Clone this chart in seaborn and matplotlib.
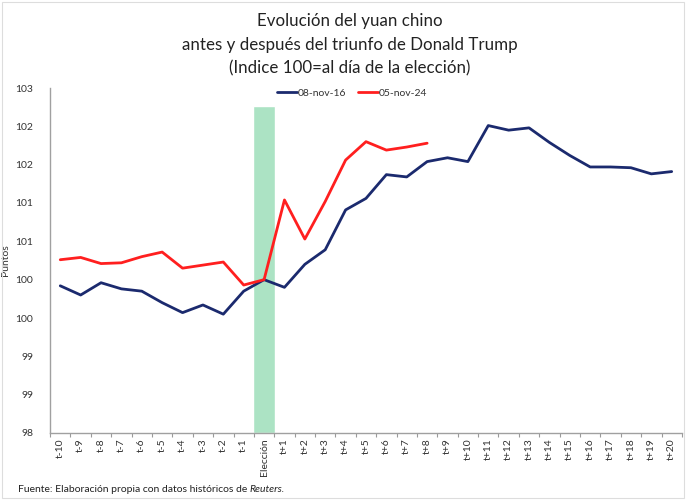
import numpy as np
import pandas as pd
import matplotlib
matplotlib.use("Agg")
import matplotlib.pyplot as plt
import seaborn as sns

categories = [f"t-{i}" for i in range(10, 0, -1)] + ["Elección"] + [f"t+{i}" for i in range(1, 21)]

usd_2016 = [99.92, 99.80, 99.96, 99.88, 99.85, 99.70, 99.57, 99.67, 99.55, 99.85,
            100.00,
            99.90, 100.20, 100.39, 100.91, 101.06, 101.37, 101.34, 101.54, 101.59, 101.54,
            102.01, 101.95, 101.98, 101.79, 101.62, 101.47, 101.47, 101.46, 101.38, 101.41]

usd_2024 = [100.26, 100.29, 100.21, 100.22, 100.30, 100.36, 100.15, 100.19, 100.23, 99.93,
            100.00,
            101.04, 100.53, 101.02, 101.56, 101.80, 101.69, 101.73, 101.78] + [np.nan] * 12

series_names = ["08-nov-16", "05-nov-24"]
election_band = 102.26

y_ticks = [98, 98.5, 99, 99.5, 100, 100.5, 101, 101.5, 102, 102.5]
y_tick_labels = ["98", "99", "99", "100", "100", "101", "101", "102", "102", "103"]

sns.set_theme(style="white")
plt.rcParams["font.family"] = ["Lato", "DejaVu Sans"]

df = pd.DataFrame({
    "cat": categories * 2,
    "val": usd_2016 + usd_2024,
    "serie": [series_names[0]] * len(categories) + [series_names[1]] * len(categories),
})
df["x"] = list(range(len(categories))) * 2

fig = plt.figure(figsize=(6.86, 5.0), dpi=100)
ax = fig.add_axes([0.073, 0.134, 0.921, 0.690])

# election band
ax.bar([categories.index("Elección")], [election_band - 98], bottom=98, width=1.06,
       color="#ACE3C4", zorder=1)

sns.lineplot(data=df, x="x", y="val", hue="serie",
             palette={series_names[0]: "#1B2A6E", series_names[1]: "#FF1F1F"},
             linewidth=2.0, ax=ax, zorder=3, legend=True)

ax.set_xlim(-0.5, len(categories) - 0.5)
ax.set_ylim(98, 102.5)
ax.set_yticks(y_ticks)
ax.set_yticklabels(y_tick_labels, fontsize=7.5, color="#333333")
ax.set_xticks(np.arange(len(categories)))
ax.set_xticklabels(categories, rotation=90, fontsize=7.5, color="#333333")
ax.set_xticks(np.arange(-0.5, len(categories)), minor=True)
ax.tick_params(axis="x", which="major", length=0, pad=4)
ax.tick_params(axis="x", which="minor", length=3, color="#9a9a9a", width=0.8, bottom=True)
ax.tick_params(axis="y", length=0, pad=12)
ax.set_xlabel("")
ax.set_ylabel("Puntos", fontsize=7.5, color="#333333", labelpad=4)

for s in ["top", "right"]:
    ax.spines[s].set_visible(False)
for s in ["left", "bottom"]:
    ax.spines[s].set_color("#a0a0a0")
    ax.spines[s].set_linewidth(1.0)

leg = ax.legend(loc="upper center", bbox_to_anchor=(0.478, 1.025), ncol=2, frameon=False,
                fontsize=7.5, handlelength=1.9, handletextpad=0.1, columnspacing=1.1)
for t in leg.get_texts():
    t.set_color("#333333")

fig.text(0.51, 0.958, "Evolución del yuan chino", ha="center", va="center", fontsize=12.2, color="#222222")
fig.text(0.51, 0.910, "antes y después del triunfo de Donald Trump", ha="center", va="center", fontsize=12.2, color="#222222")
fig.text(0.51, 0.864, "(Indice 100=al día de la elección)", ha="center", va="center", fontsize=12.2, color="#222222")

t1 = fig.text(0.026, 0.016, "Fuente: Elaboración propia con datos históricos de ", fontsize=7.5, color="#222222")
fig.canvas.draw()
bb = t1.get_window_extent(renderer=fig.canvas.get_renderer())
fig.text(bb.x1 / fig.bbox.width, 0.016, "Reuters.", fontsize=7.5, style="italic", color="#222222")

fig.patches.append(plt.Rectangle((0.003, 0.004), 0.994, 0.992, transform=fig.transFigure,
                                 fill=False, edgecolor="#dddddd", linewidth=0.8))

fig.savefig("out.png", dpi=100)
